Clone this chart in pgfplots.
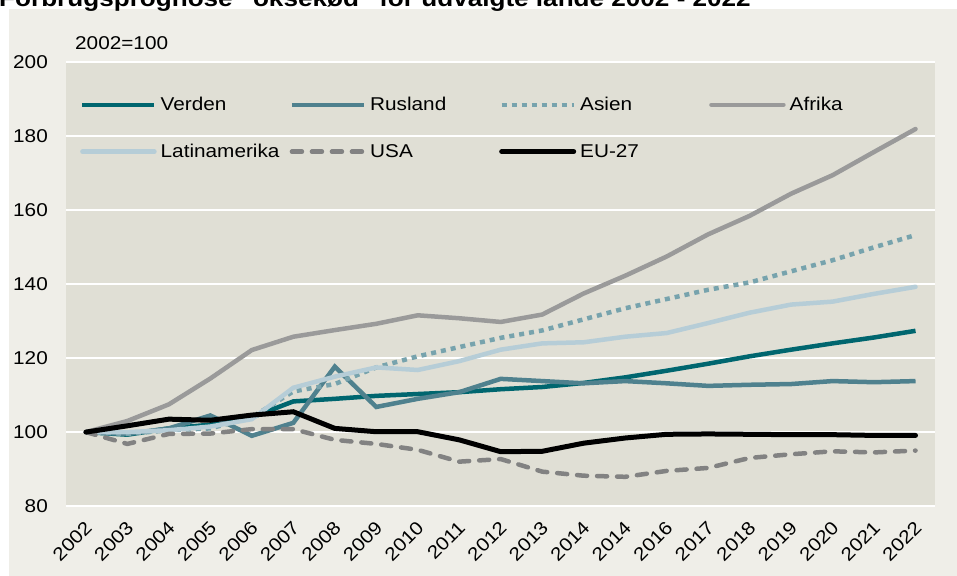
\documentclass[border=0pt]{standalone}
\usepackage{fontspec}
\setmainfont{Liberation Sans}[FakeStretch=1.12]
\usepackage{pgfplots}
\usepackage{pgfplotstable}
\pgfplotsset{compat=1.18}
\definecolor{outerbg}{HTML}{EFEEE8}
\definecolor{plotbg}{HTML}{E0DFD5}
\definecolor{cverden}{HTML}{00666F}
\definecolor{crus}{HTML}{4F818E}
\definecolor{casien}{HTML}{77A3AD}
\definecolor{cafrika}{HTML}{9A9A9A}
\definecolor{clatin}{HTML}{B6CDD7}
\definecolor{cusa}{HTML}{828282}

\pgfplotstableread{
x verden rusland asien afrika latin usa eu
0  100   100   100   100   100   100   100
1  99.3  99.5  99.5  103   100   96.8  101.7
2  101   101   100.5 107.5 100.5 99.5  103.5
3  102   104.5 101   114.5 101.5 99.6  103.2
4  104   99    104   122.2 103.5 100.8 104.6
5  108.3 102.5 111   125.8 112   100.8 105.5
6  109   117.7 113   127.6 115   97.9  101
7  109.8 106.8 117.5 129.3 117.5 96.8  100.1
8  110.3 109   120.5 131.6 116.8 95.2  100.1
9  110.8 110.8 123   130.8 119.2 92    97.9
10 111.6 114.4 125.5 129.8 122.3 92.7  94.7
11 112.2 113.8 127.5 131.8 124   89.3  94.8
12 113.3 113.2 130.5 137.5 124.3 88.2  97
13 114.8 113.8 133.5 142.3 125.8 87.9  98.4
14 116.6 113.2 136   147.5 126.8 89.5  99.4
15 118.5 112.5 138.5 153.5 129.5 90.3  99.5
16 120.5 112.8 140.5 158.5 132.3 93    99.4
17 122.3 113   143.5 164.5 134.5 94    99.3
18 124   113.8 146.5 169.5 135.3 94.8  99.3
19 125.6 113.5 150   175.8 137.4 94.5  99.1
20 127.4 113.8 153.3 182   139.3 95    99.1
}\datatable

\begin{document}
\begin{tikzpicture}[x=1bp,y=1bp]
\useasboundingbox (0,-576) rectangle (957,0);
\clip (0,-576) rectangle (957,0);
\fill[outerbg] (9,-576) rectangle (957,-9);
\node[anchor=base west, inner sep=0pt, font=\fontsize{23.4}{26}\selectfont\bfseries] at (-1,-7) {Forbrugsprognose "oksekød" for udvalgte lande 2002 - 2022};
\node[anchor=west, inner sep=0pt, font=\fontsize{18.6}{20}\selectfont] at (75,-43) {2002=100};
\begin{axis}[
  at={(66bp,-506bp)}, anchor=south west,
  scale only axis, width=869bp, height=443.5bp,
  xmin=-0.48, xmax=20.47, ymin=80, ymax=200,
  ytick={80,100,...,200},
  xtick={0,...,20},
  xticklabels={2002,2003,2004,2005,2006,2007,2008,2009,2010,2011,2012,2013,2014,2014,2016,2017,2018,2019,2020,2021,2022},
  axis background/.style={fill=plotbg},
  axis line style={draw=none},
  major tick length=0pt,
  ymajorgrids, grid style={white, line width=2bp},
  tick label style={font=\fontsize{18.6}{20}\selectfont},
  /pgf/number format/assume math mode=true,
  yticklabel style={anchor=east, inner sep=0pt, xshift=-18bp},
  xticklabel style={xshift=-2bp, yshift=-14bp, rotate=45, anchor=north east, inner sep=0pt},
  legend columns=4,
  legend cell align=left,
  legend style={at={(axis description cs:0.0161,0.922)}, anchor=north west,
    draw=none, fill=none, inner sep=0pt, column sep=0pt, row sep=32bp,
    font=\fontsize{18.6}{20}\selectfont, nodes={inner sep=0pt}},
  legend image code/.code={\draw[#1] (0bp,0bp) -- (72bp,0bp);},
  every axis plot/.append style={line width=4.5bp},
]
\addplot[cverden] table[x=x,y=verden]{\datatable};
\addlegendentry{\makebox[133bp][l]{\hspace{4bp}Verden}}
\addplot[crus] table[x=x,y=rusland]{\datatable};
\addlegendentry{\makebox[133bp][l]{\hspace{4bp}Rusland}}
\addplot[casien, dash pattern=on 5bp off 5bp] table[x=x,y=asien]{\datatable};
\addlegendentry{\makebox[133bp][l]{\hspace{4bp}Asien}}
\addplot[cafrika, line cap=round] table[x=x,y=afrika]{\datatable};
\addlegendentry{\makebox[133bp][l]{\hspace{4bp}Afrika}}
\addplot[clatin, line cap=round] table[x=x,y=latin]{\datatable};
\addlegendentry{\makebox[133bp][l]{\hspace{4bp}Latinamerika}}
\addplot[cusa, line cap=round, dash pattern=on 10bp off 10bp] table[x=x,y=usa]{\datatable};
\addlegendentry{\makebox[133bp][l]{\hspace{4bp}USA}}
\addplot[black, line width=5bp, line cap=round] table[x=x,y=eu]{\datatable};
\addlegendentry{\makebox[133bp][l]{\hspace{4bp}EU-27}}
\end{axis}
\end{tikzpicture}
\end{document}
